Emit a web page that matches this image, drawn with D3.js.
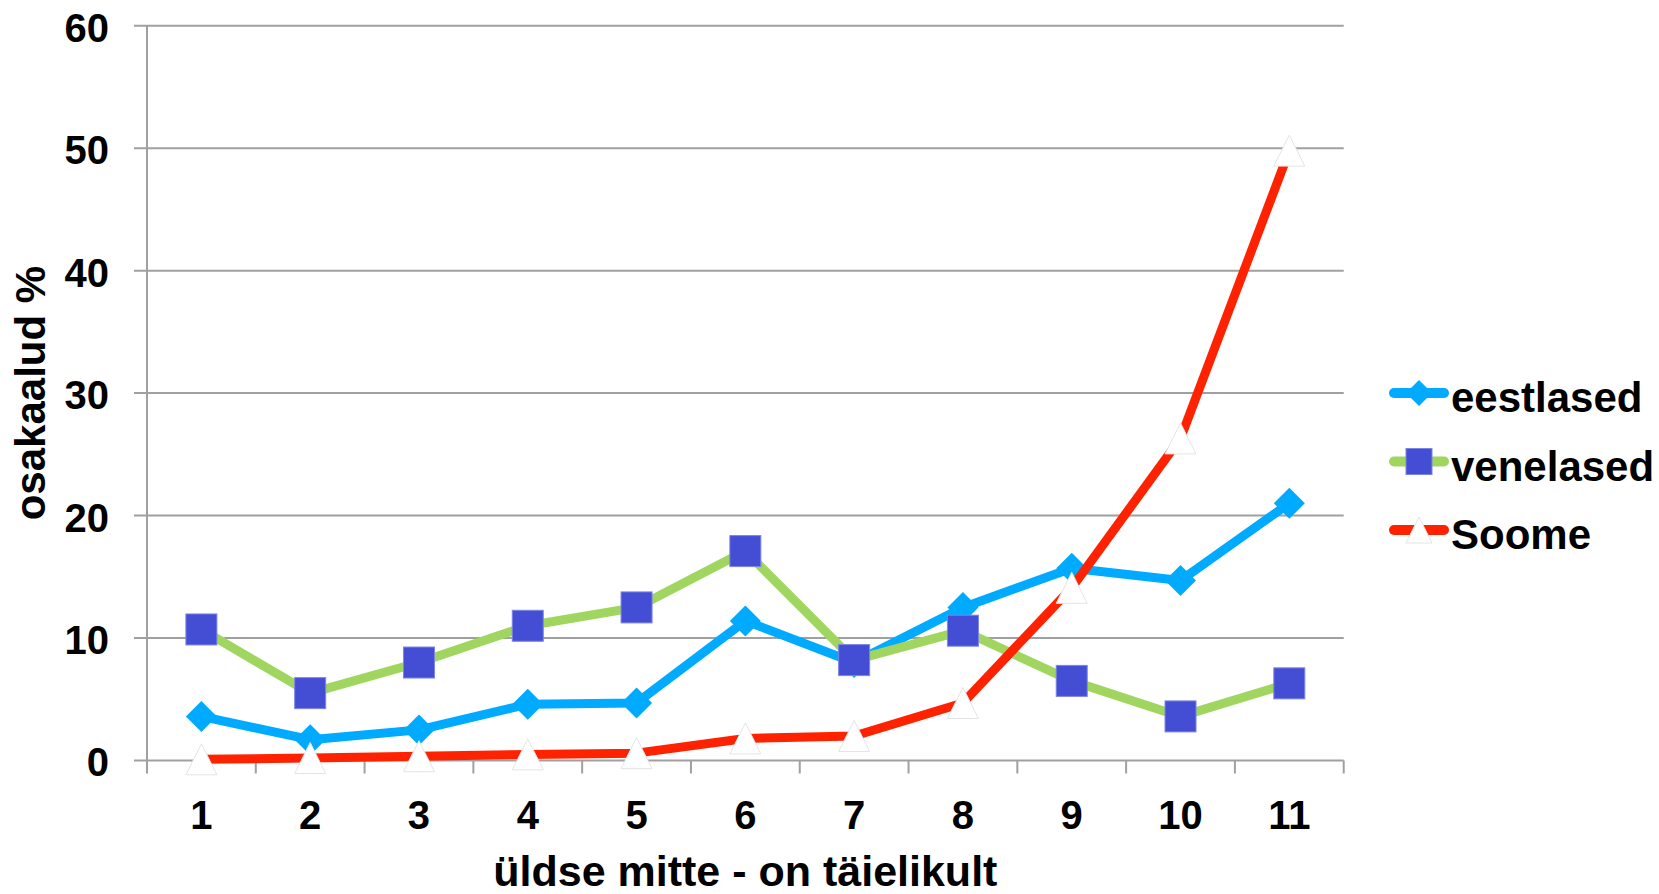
<!DOCTYPE html>
<html>
<head>
<meta charset="utf-8">
<script src="https://cdn.jsdelivr.net/npm/d3@7"></script>
<style>
    body { margin: 0; background: #fff; }
    text { font-family: "Liberation Sans", Arial, sans-serif; font-weight: bold; fill: #000; }
</style>
</head>
<body>
<div id="chart"></div>
<script>
// categories on the x axis
const categories = ["1", "2", "3", "4", "5", "6", "7", "8", "9", "10", "11"];
const yTicks = [0, 10, 20, 30, 40, 50, 60];

// series values (%)
const eestlased = [3.6, 1.7, 2.5, 4.6, 4.7, 11.4, 8.0, 12.5, 15.7, 14.7, 21.0];
const venelased = [10.7, 5.5, 8.0, 11.0, 12.5, 17.1, 8.2, 10.6, 6.5, 3.6, 6.3];
const soome = [0.1, 0.2, 0.35, 0.5, 0.6, 1.8, 2.0, 4.7, 14.1, 26.3, 49.8];

const seriesNames = ["eestlased", "venelased", "Soome"];

class LineChart {
    constructor(parentElement) {
        this.parentElement = parentElement;
        this.initVis();
    }

    initVis() {
        let vis = this;

        vis.margin = {top: 25.7, right: 315.3, bottom: 133.5, left: 147};
        vis.width = 1659 - vis.margin.left - vis.margin.right;
        vis.height = 894 - vis.margin.top - vis.margin.bottom;

        vis.svg = d3.select("#" + vis.parentElement).append("svg")
            .attr("width", 1659)
            .attr("height", 894)
            .append("g")
            .attr("transform", "translate(" + vis.margin.left + "," + vis.margin.top + ")");

        // scales
        vis.x = d3.scaleBand().domain(categories).range([0, vis.width]);
        vis.y = d3.scaleLinear().domain([0, 60]).range([vis.height, 0]);

        vis.series = [
            {name: seriesNames[0], values: eestlased, color: "#00aaff", marker: "diamond"},
            {name: seriesNames[1], values: venelased, color: "#a0d660", marker: "square"},
            {name: seriesNames[2], values: soome, color: "#ff2200", marker: "triangle"}
        ];

        // gridlines (with left tick stub)
        vis.svg.append("g")
            .attr("class", "grid")
            .selectAll("line")
            .data(yTicks)
            .join("line")
            .attr("x1", -13)
            .attr("x2", vis.width)
            .attr("y1", d => vis.y(d))
            .attr("y2", d => vis.y(d))
            .attr("stroke", "#a0a0a0")
            .attr("stroke-width", 2);

        // y axis labels
        vis.svg.append("g")
            .selectAll("text")
            .data(yTicks)
            .join("text")
            .attr("x", -38)
            .attr("y", d => vis.y(d) + 16)
            .attr("text-anchor", "end")
            .style("font-size", "40px")
            .text(d => d);

        // y axis line
        vis.svg.append("line")
            .attr("x1", 0).attr("x2", 0)
            .attr("y1", 0).attr("y2", vis.height)
            .attr("stroke", "#a0a0a0")
            .attr("stroke-width", 2);

        // x axis ticks at category boundaries
        let bounds = categories.map(c => vis.x(c)).concat([vis.width]);
        vis.svg.append("g")
            .selectAll("line")
            .data(bounds)
            .join("line")
            .attr("x1", d => d).attr("x2", d => d)
            .attr("y1", vis.height).attr("y2", vis.height + 13)
            .attr("stroke", "#a0a0a0")
            .attr("stroke-width", 2);

        vis.svg.append("g")
            .selectAll("text")
            .data(categories)
            .join("text")
            .attr("x", d => vis.x(d) + vis.x.bandwidth() / 2)
            .attr("y", vis.height + 68.5)
            .attr("text-anchor", "middle")
            .style("font-size", "40px")
            .text(d => d);

        // axis titles
        vis.svg.append("text")
            .attr("x", vis.width / 2)
            .attr("y", vis.height + 126)
            .attr("text-anchor", "middle")
            .style("font-size", "43px")
            .text("üldse mitte - on täielikult");

        vis.svg.append("text")
            .attr("transform", "translate(" + (45 - vis.margin.left) + "," + (vis.height / 2) + ") rotate(-90)")
            .attr("text-anchor", "middle")
            .style("font-size", "42px")
            .text("osakaalud %");

        vis.line = d3.line()
            .x((d, i) => vis.x(categories[i]) + vis.x.bandwidth() / 2)
            .y(d => vis.y(d));

        vis.wrangleData();
    }

    wrangleData() {
        let vis = this;
        vis.updateVis();
    }

    drawMarker(sel, type, size) {
        let h = size / 2;
        if (type === "diamond") {
            sel.append("path")
                .attr("d", "M0," + (-h) + "L" + h + ",0L0," + h + "L" + (-h) + ",0Z")
                .attr("fill", "#00aaff");
        } else if (type === "square") {
            sel.append("rect")
                .attr("x", -h).attr("y", -h)
                .attr("width", size).attr("height", size)
                .attr("fill", "#444ed4")
                .attr("stroke", "#7d84e6")
                .attr("stroke-width", 1);
        } else {
            sel.append("path")
                .attr("d", "M0," + (-h) + "L" + h + "," + h + "L" + (-h) + "," + h + "Z")
                .attr("fill", "#fff")
                .attr("stroke", "#e4e4e4")
                .attr("stroke-width", 1);
        }
    }

    updateVis() {
        let vis = this;

        vis.series.forEach(s => {
            let g = vis.svg.append("g").attr("class", "series");
            g.append("path")
                .datum(s.values)
                .attr("d", vis.line)
                .attr("fill", "none")
                .attr("stroke", s.color)
                .attr("stroke-width", 9)
                .attr("stroke-linejoin", "round");

            g.selectAll("g.marker")
                .data(s.values)
                .join("g")
                .attr("class", "marker")
                .attr("transform", (d, i) => "translate(" + (vis.x(categories[i]) + vis.x.bandwidth() / 2) + "," + vis.y(d) + ")")
                .each(function () { vis.drawMarker(d3.select(this), s.marker, 31); });
        });

        // legend
        let legend = vis.svg.append("g")
            .attr("transform", "translate(" + (1389 - vis.margin.left) + "," + (393 - vis.margin.top) + ")");

        let rows = legend.selectAll("g")
            .data(vis.series)
            .join("g")
            .attr("transform", (d, i) => "translate(0," + (i * 68.5) + ")");

        rows.append("line")
            .attr("x1", 5).attr("x2", 55)
            .attr("y1", 0).attr("y2", 0)
            .attr("stroke", d => d.color)
            .attr("stroke-width", 10)
            .attr("stroke-linecap", "round");

        rows.each(function (d) {
            let m = d3.select(this).append("g").attr("transform", "translate(30,0)");
            vis.drawMarker(m, d.marker, 26);
        });

        rows.append("text")
            .attr("x", 62)
            .attr("y", 19)
            .style("font-size", "42px")
            .text(d => d.name);
    }
}

new LineChart("chart");
</script>
</body>
</html>
